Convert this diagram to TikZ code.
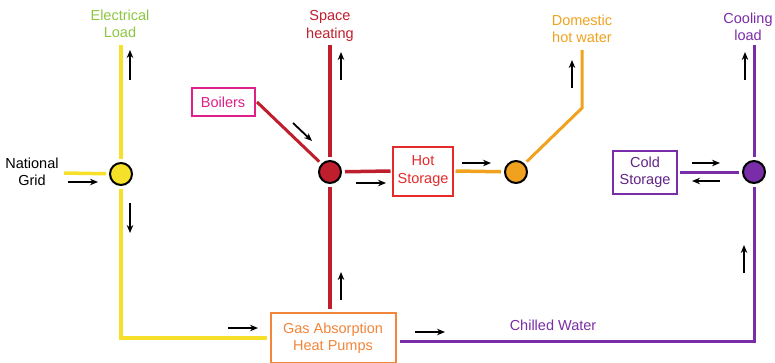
\documentclass[tikz,border=0pt]{standalone}
\usepackage{fontspec}
\setmainfont{Liberation Sans}
\usetikzlibrary{arrows.meta,calc}
\definecolor{cyel}{HTML}{F7E02A}
\definecolor{cred}{HTML}{BF1E2D}
\definecolor{cmag}{HTML}{E0208A}
\definecolor{chot}{HTML}{E62A2A}
\definecolor{corg}{HTML}{F0A21E}
\definecolor{cgas}{HTML}{F2863A}
\definecolor{cpur}{HTML}{7A2DA8}
\definecolor{cgrn}{HTML}{8CC63F}
\begin{document}
\begin{tikzpicture}[x=1pt,y=-1pt,
  lbl/.style={font=\fontsize{14.5}{17.5}\selectfont, align=center, inner sep=1pt},
  hub/.style={circle, draw=black, line width=2pt, minimum size=22pt, inner sep=0pt, outer sep=4pt},
  boxn/.style={draw, line width=2pt, fill=white, align=center, font=\fontsize{14.5}{17.5}\selectfont, inner sep=0pt, outer sep=2.5pt},
  flow/.style={-{Stealth[length=8pt,width=6.5pt]}, line width=1.8pt, black},
  pipe/.style={line width=3.5pt}]
\useasboundingbox (0,0) rectangle (775,362);
% labels
\node[lbl, text=cgrn] (elec) at (120,24) {Electrical\\Load};
\node[lbl, text=cred] (space) at (330,26) {Space\\heating};
\node[lbl, text=corg] (dhw) at (582,29) {Domestic\\hot water};
\node[lbl, text=cpur] (cool) at (748,27) {Cooling\\load};
\node[lbl, text=black] (grid) at (32,172) {National\\Grid};
\node[lbl, text=cpur] (chilled) at (553,325) {Chilled Water};
% boxes
\node[boxn, draw=cmag, text=cmag, minimum width=63pt, minimum height=28pt] (boilers) at (223,102) {Boilers};
\node[boxn, draw=chot, text=chot, minimum width=60pt, minimum height=49pt] (hot) at (423,171) {Hot\\Storage};
\node[boxn, draw=cpur, text=cpur!80!black, minimum width=64pt, minimum height=43pt] (cold) at (645,172) {Cold\\Storage};
\node[boxn, draw=cgas, text=cgas, minimum width=125pt, minimum height=50pt, outer sep=4pt] (gas) at (333,338) {Gas Absorption\\Heat Pumps};
% hubs
\node[hub, fill=cyel] (hy) at (121,174) {};
\node[hub, fill=cred] (hr) at (330,172) {};
\node[hub, fill=corg] (ho) at (516,172) {};
\node[hub, fill=cpur] (hp) at (754,172) {};
% free ends
\coordinate (gl) at (64,173);
\coordinate (bend) at (582,108);
\coordinate (dtop) at (582,50);
\coordinate (pc) at (754,341);
% pipes
\draw[pipe, cyel] (gl) -- (hy);
\draw[pipe, cyel] (hy) -- (hy |- 0,45);
\draw[pipe, cyel] (hy) |- (gas.west);
\draw[pipe, cred] (hr) -- (hr |- 0,45);
\draw[pipe, cred] (hr) -- (hr |- gas.north);
\draw[pipe, cred, line width=3pt] (boilers.east) -- (hr);
\draw[pipe, cred] (hr) -- (hot.west);
\draw[pipe, corg] (hot.east) -- (ho);
\draw[pipe, corg, line width=3pt] (ho) -- (bend) -- (dtop);
\draw[pipe, cpur, line width=3pt] (cold.east) -- (hp);
\draw[pipe, cpur, line width=3pt] (hp) -- (hp |- 0,45);
\draw[pipe, cpur, line width=3pt] (hp) -- (pc) -- (gas.east |- pc);
% flow arrows
\draw[flow] (130,80) -- (130,50);
\draw[flow] (68,182) -- (98,182);
\draw[flow] (130,203) -- (130,233);
\draw[flow] (228,328) -- (258,328);
\draw[flow] (341,80) -- (341,52);
\draw[flow] (341,300) -- (341,272);
\draw[flow] (293,123) -- (312,141);
\draw[flow] (356,183) -- (386,183);
\draw[flow] (462,163) -- (491,163);
\draw[flow] (572,88) -- (572,60);
\draw[flow] (745,80) -- (745,52);
\draw[flow] (692,163) -- (720,163);
\draw[flow] (720,181) -- (692,181);
\draw[flow] (744,273) -- (744,245);
\draw[flow] (415,332) -- (445,332);
\end{tikzpicture}
\end{document}
